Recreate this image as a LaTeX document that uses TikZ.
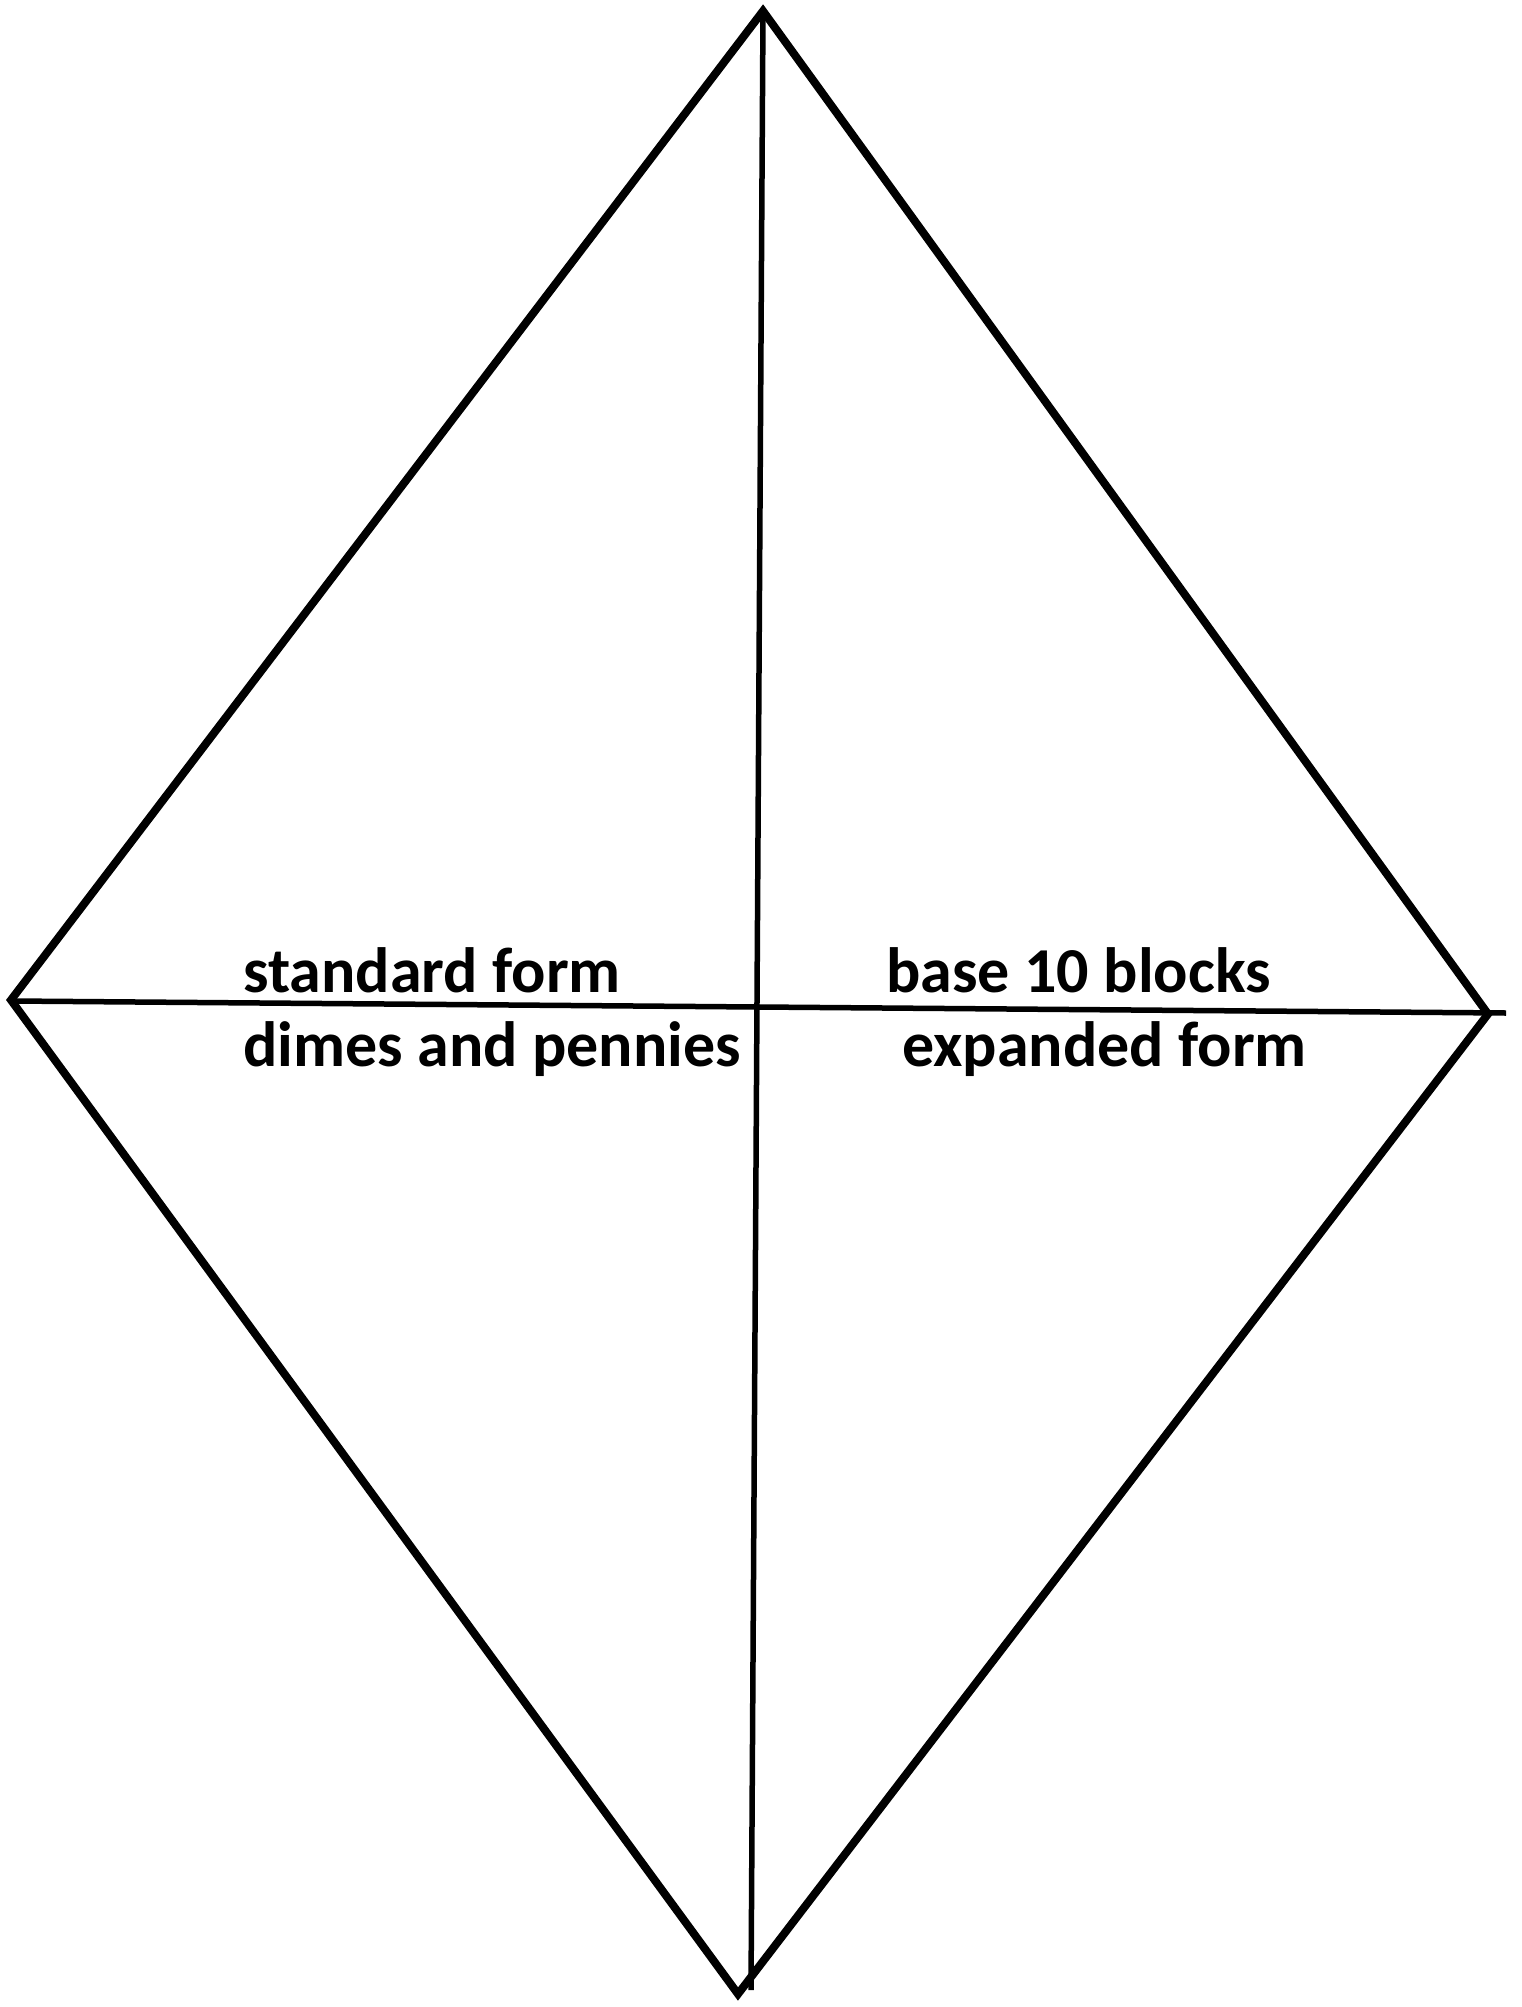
\documentclass[tikz,border=0pt]{standalone}
\usepackage{fontspec}
\setmainfont{Carlito}
\usepackage{tikz}

\begin{document}
\begin{tikzpicture}[x=1pt,y=-1pt,
    edge/.style={line width=8pt,line join=miter},
    split/.style={line width=5.5pt},
    lbl/.style={anchor=base west,inner sep=0pt,font=\fontsize{64}{68}\selectfont\bfseries}]
    \useasboundingbox[fill=white] (0,0) rectangle (1522,2007);
    % corners of the kite
    \coordinate (top) at (763,11);
    \coordinate (left) at (11,1000);
    \coordinate (right) at (1488,1014);
    \coordinate (bottom) at (738,1994);
    \draw[edge] (top)--(right)--(bottom)--(left)--cycle;
    % dividing lines
    \coordinate (vtop) at (763,12);
    \coordinate (vbot) at (751,1990);
    \coordinate (hleft) at (12,1001);
    \coordinate (hright) at (1506,1013);
    \draw[split] (vtop)--(vbot);
    \draw[split] (hleft)--(hright);
    % labels
    \node[lbl] (std) at (243,992) {standard form};
    \node[lbl] (dimes) at (243,1066) {dimes and pennies};
    \node[lbl] (blocks) at (886,992) {base 10 blocks};
    \node[lbl] (expd) at (902,1066) {expanded form};
\end{tikzpicture}
\end{document}
